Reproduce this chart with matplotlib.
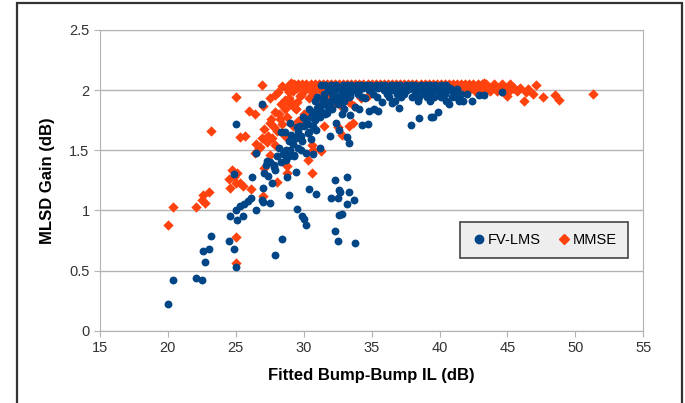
import numpy as np
import matplotlib
matplotlib.use('Agg')
import matplotlib.pyplot as plt
from matplotlib.patches import Rectangle
from matplotlib.lines import Line2D

plt.rcParams['font.family'] = ['Liberation Sans', 'DejaVu Sans']

# FV-LMS points (IL dB, gain dB)
fv_lms_low = [
    (20.0, 0.22), (20.4, 0.42), (22.1, 0.44), (22.5, 0.42), (22.7, 0.57), (22.55, 0.66),
    (23.0, 0.68), (23.2, 0.79), (24.5, 0.75), (24.9, 0.68), (25.0, 0.53), (24.6, 0.95),
    (25.0, 1.00), (25.1, 0.92), (25.5, 0.95), (25.3, 1.04), (25.6, 1.05), (25.9, 1.08),
    (26.1, 1.10), (26.5, 1.00), (26.95, 1.09), (27.0, 1.07), (27.5, 1.06), (27.9, 0.63),
    (28.4, 0.76), (28.95, 1.13), (29.5, 1.01), (29.9, 0.95), (30.0, 0.93), (30.2, 0.88),
    (30.4, 1.18), (30.9, 1.14), (32.0, 1.10), (32.5, 1.10), (32.3, 1.25), (32.3, 0.83),
    (32.5, 0.75), (32.6, 0.96), (32.8, 0.97), (32.6, 1.17), (32.7, 1.15), (33.2, 1.28),
    (33.3, 1.15), (33.2, 1.05), (33.7, 1.09), (33.8, 0.73),
]
fv_lms_mid = [
    (25.0, 1.72), (26.9, 1.88), (24.9, 1.30), (26.2, 1.28), (26.5, 1.48), (27.0, 1.19),
    (27.1, 1.31), (27.3, 1.41), (27.4, 1.29), (27.7, 1.23), (27.8, 1.38), (27.9, 1.34),
    (28.3, 1.40), (28.3, 1.65), (28.6, 1.65), (28.7, 1.50), (28.8, 1.28), (29.0, 1.73),
    (28.9, 1.45), (29.3, 1.46), (29.4, 1.32), (29.5, 1.62), (29.7, 1.70), (29.8, 1.50),
    (29.95, 1.78), (30.2, 1.48), (30.3, 1.64), (30.4, 1.84), (30.5, 1.59), (30.7, 1.47),
    (30.9, 1.67), (31.1, 1.87), (31.2, 1.52), (31.5, 1.93), (31.7, 1.81), (31.9, 1.62),
    (32.2, 1.95), (32.4, 1.73), (32.6, 1.67), (32.8, 1.80), (33.0, 1.84), (33.2, 1.61),
    (33.3, 1.56), (33.4, 1.79), (33.8, 1.86), (34.1, 1.84), (34.3, 1.71), (34.7, 1.72),
    (34.5, 1.93), (34.8, 1.83), (35.2, 1.84), (35.5, 1.83), (35.8, 1.90), (36.5, 1.89),
    (37.0, 1.85), (37.9, 1.71), (38.5, 1.77), (39.4, 1.78), (39.5, 1.78), (39.9, 1.82),
    (40.7, 1.88), (41.2, 1.94), (41.7, 1.91), (42.4, 1.91), (42.9, 1.96), (43.3, 1.96),
    (44.6, 1.98), (40.5, 2.04), (41.3, 2.01),
    (29.2, 1.55), (29.4, 1.60), (29.6, 1.66), (29.8, 1.62), (30.0, 1.70), (30.1, 1.76),
    (30.3, 1.72), (30.5, 1.78), (30.6, 1.82), (30.8, 1.75), (30.9, 1.80), (31.0, 1.85),
    (31.2, 1.78), (31.3, 1.83), (31.5, 1.88), (31.6, 1.80), (31.8, 1.86), (32.0, 1.90),
    (32.1, 1.84), (32.3, 1.92), (32.5, 1.88), (32.7, 1.95), (32.9, 1.90), (33.1, 1.97),
    (33.4, 1.95), (29.0, 1.50), (29.3, 1.45), (28.7, 1.42), (28.5, 1.47), (28.2, 1.52),
    (28.0, 1.45), (27.8, 1.36), (27.5, 1.40), (27.2, 1.38), (29.6, 1.52), (29.9, 1.58),
    (30.4, 1.65), (30.7, 1.70), (28.9, 1.58), (29.1, 1.63), (29.5, 1.69),
]
fv_lms_top = [
    (31.3, 2.04), (31.6, 2.04), (32.0, 2.04), (32.4, 2.04), (32.9, 2.04), (33.2, 2.04),
    (33.5, 2.04), (33.9, 2.04), (34.2, 2.04), (34.6, 2.04), (34.9, 2.04), (35.3, 2.04),
    (35.7, 2.04), (36.0, 2.04), (36.4, 2.04), (36.8, 2.04), (37.1, 2.04), (37.5, 2.04),
    (37.9, 2.04), (38.2, 2.04), (38.6, 2.04), (39.0, 2.04), (39.3, 2.04), (39.7, 2.04),
    (40.1, 2.04), (32.6, 2.02), (33.0, 2.02), (33.7, 2.02), (34.4, 2.02), (35.0, 2.02),
    (35.5, 2.02), (36.2, 2.02), (36.6, 2.02), (37.3, 2.02), (37.7, 2.02), (38.4, 2.02),
    (38.8, 2.02), (39.5, 2.02), (39.9, 2.02), (40.3, 2.02), (40.8, 2.02), (31.8, 2.00),
    (32.3, 2.00), (33.1, 2.00), (33.6, 2.00), (34.1, 2.00), (34.8, 2.00), (35.9, 2.00),
    (36.5, 2.00), (37.0, 2.00), (37.6, 2.00), (38.1, 2.00), (38.7, 2.00), (39.2, 2.00),
    (39.8, 2.00), (40.2, 2.00), (40.6, 2.00), (41.0, 2.00), (31.5, 1.97), (32.1, 1.97),
    (32.8, 1.97), (33.4, 1.97), (34.0, 1.97), (35.1, 1.97), (36.1, 1.97), (36.9, 1.97),
    (37.4, 1.97), (38.3, 1.97), (38.9, 1.97), (39.4, 1.97), (40.0, 1.97), (40.4, 1.97),
    (41.1, 1.97), (41.6, 1.97), (42.0, 1.97), (31.0, 1.94), (32.5, 1.94), (33.3, 1.94),
    (34.3, 1.94), (35.4, 1.94), (36.3, 1.94), (37.2, 1.94), (38.0, 1.94), (38.5, 1.94),
    (39.1, 1.94), (39.6, 1.94), (40.1, 1.94), (40.9, 1.94), (30.8, 1.91), (31.4, 1.91),
    (32.0, 1.91), (33.0, 1.91), (36.7, 1.91), (38.4, 1.91), (39.3, 1.91), (40.5, 1.91),
    (41.4, 1.91),
]

# MMSE points (IL dB, gain dB)
mmse_low = [
    (20.0, 0.88), (20.4, 1.03), (22.1, 1.03), (22.5, 1.09), (22.7, 1.06), (22.55, 1.13),
    (23.0, 1.15), (23.2, 1.66), (24.5, 1.26), (24.7, 1.34), (24.6, 1.19), (24.9, 1.28),
    (25.1, 1.31), (25.0, 1.23), (25.3, 1.23), (25.5, 1.20), (26.1, 1.18), (25.0, 0.78),
    (25.0, 0.56), (25.0, 1.94), (25.3, 1.61), (25.7, 1.62), (26.0, 1.83), (26.4, 1.80),
    (26.5, 1.55), (26.8, 1.53), (26.9, 2.04), (27.0, 1.87), (27.1, 1.35), (27.0, 1.12),
    (27.4, 1.62), (27.5, 1.73), (27.5, 1.93), (27.55, 1.46), (27.8, 1.69), (27.9, 1.96),
    (27.9, 1.54), (28.0, 1.24), (28.1, 1.98), (28.2, 1.80), (28.25, 1.76), (28.4, 2.03),
    (28.6, 1.84), (28.6, 1.92), (28.8, 1.31), (28.8, 1.37), (28.9, 1.98), (29.0, 1.91),
    (29.1, 2.06), (29.35, 1.85), (29.7, 1.95), (29.8, 1.76), (30.1, 1.72), (30.35, 1.42),
    (30.6, 1.54), (30.6, 1.31), (30.7, 1.50), (31.5, 1.70), (31.3, 1.49), (32.5, 1.69),
    (32.8, 1.63), (33.3, 1.70), (33.6, 1.73), (34.7, 1.95),
    (29.8, 1.96), (30.4, 1.93), (31.0, 1.90), (31.6, 1.92), (32.2, 1.88), (32.8, 1.86),
    (33.3, 1.90), (33.7, 1.87), (34.2, 1.93), (29.0, 1.88), (29.4, 1.84), (28.8, 1.78),
    (28.4, 1.72), (28.0, 1.66), (27.7, 1.60), (27.3, 1.57), (29.6, 1.74), (30.0, 1.80),
    (29.2, 1.70), (28.6, 1.62), (28.9, 1.93), (28.3, 1.88), (27.9, 1.82), (27.6, 1.76),
    (27.1, 1.68), (26.7, 1.52), (26.4, 1.48), (26.9, 1.60), (29.5, 1.90), (30.7, 1.97),
    (31.9, 1.96),
]
mmse_top = [
    (29.0, 2.05), (29.3, 2.05), (29.6, 2.05), (29.9, 2.05), (30.2, 2.05), (30.5, 2.05),
    (30.8, 2.05), (31.1, 2.05), (31.4, 2.05), (31.7, 2.05), (32.0, 2.05), (32.3, 2.05),
    (32.6, 2.05), (32.9, 2.05), (33.2, 2.05), (33.5, 2.05), (33.8, 2.05), (34.1, 2.05),
    (34.4, 2.05), (34.7, 2.05), (35.0, 2.05), (35.3, 2.05), (35.6, 2.05), (35.9, 2.05),
    (36.2, 2.05), (36.5, 2.05), (36.8, 2.05), (37.1, 2.05), (37.4, 2.05), (37.7, 2.05),
    (38.0, 2.05), (38.3, 2.05), (38.6, 2.05), (38.9, 2.05), (39.2, 2.05), (39.5, 2.05),
    (39.8, 2.05), (40.1, 2.05), (40.4, 2.05), (40.7, 2.05), (41.0, 2.05), (41.3, 2.05),
    (41.6, 2.05), (41.9, 2.05), (42.2, 2.05), (42.5, 2.05), (42.8, 2.05), (43.1, 2.05),
    (43.4, 2.05), (44.0, 2.05), (44.6, 2.05), (45.2, 2.05),
    (28.7, 2.02), (29.5, 2.02), (30.3, 2.02), (30.9, 2.02), (31.5, 2.02), (32.2, 2.02),
    (33.0, 2.02), (41.4, 2.02), (41.8, 2.02), (42.3, 2.02), (42.7, 2.02), (43.0, 2.02),
    (43.5, 2.02), (43.9, 2.02), (44.3, 2.02), (44.8, 2.02), (45.4, 2.02), (45.9, 2.02),
    (29.2, 1.99), (30.0, 1.99), (30.6, 1.99), (31.3, 1.99), (32.1, 1.99), (42.0, 1.99),
    (42.6, 1.99), (43.3, 1.99), (43.7, 1.99), (44.2, 1.99), (45.1, 1.99), (45.7, 1.99),
    (45.0, 1.95), (46.25, 1.91), (46.4, 1.98), (46.5, 2.01), (46.9, 1.97), (47.1, 2.04),
    (47.6, 1.94), (48.5, 1.96), (48.8, 1.92), (51.3, 1.97), (45.5, 2.02), (45.8, 2.00),
    (44.5, 1.99), (43.3, 2.06),
]

blue = '#004586'
orange = '#ff420e'

fv = np.array(fv_lms_low + fv_lms_mid + fv_lms_top)
mm = np.array(mmse_low + mmse_top)

fig = plt.figure(figsize=(6.85, 4.03), dpi=100)
ax = fig.add_axes([0.146, 0.179, 0.793, 0.747])

ax.scatter(mm[:, 0], mm[:, 1], marker='D', s=28, color=orange, linewidths=0, zorder=3)
ax.scatter(fv[:, 0], fv[:, 1], marker='o', s=32, color=blue, linewidths=0, zorder=4)

ax.set_xlim(15, 55)
ax.set_ylim(0, 2.5)
ax.set_xticks(np.arange(15, 56, 5))
ax.set_yticks([0, 0.5, 1, 1.5, 2, 2.5])
ax.set_yticklabels(['0', '0.5', '1', '1.5', '2', '2.5'])
ax.grid(axis='y', color='#b3b3b3', linewidth=1)
ax.set_axisbelow(True)
for s in ax.spines.values():
    s.set_color('#b3b3b3')
ax.tick_params(colors='#b3b3b3', labelcolor='#333333', labelsize=10.5, length=4)

ax.set_xlabel('Fitted Bump-Bump IL (dB)', fontsize=12, fontweight='bold', labelpad=9)
ax.set_ylabel('MLSD Gain (dB)', fontsize=12, fontweight='bold', labelpad=10)

handles = [
    Line2D([], [], marker='o', color=blue, linestyle='none', markersize=6),
    Line2D([], [], marker='D', color=orange, linestyle='none', markersize=5),
]
leg = ax.legend(handles, ['FV-LMS', 'MMSE'], loc='center', bbox_to_anchor=(0.817, 0.302),
                ncol=2, fontsize=10.5, frameon=True, fancybox=False, framealpha=1,
                facecolor='#eeeeee', edgecolor='#444444', handletextpad=0.0,
                handlelength=1.2, columnspacing=1.0, borderpad=0.75)
leg.get_frame().set_linewidth(1.2)

fig.patches.append(Rectangle((0.025, -0.1), 0.97, 1.092, transform=fig.transFigure,
                             fill=False, edgecolor='#333333', linewidth=1.6, clip_on=False))

fig.savefig('out.png', dpi=100)
